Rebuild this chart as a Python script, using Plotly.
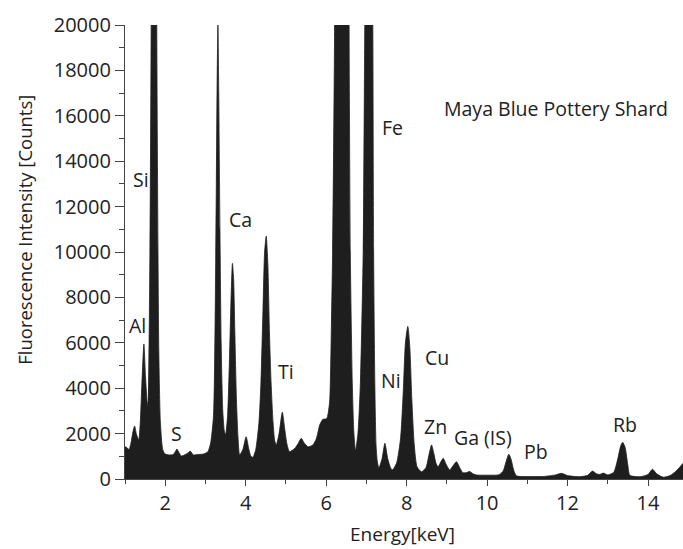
import plotly.graph_objects as go

energy_kev = [
    1.00, 1.05, 1.10, 1.15, 1.20, 1.24, 1.28, 1.34, 1.38, 1.42, 1.47, 1.51, 1.55, 1.57, 1.61, 1.65, 1.72, 1.79,
    1.84, 1.88, 1.94, 2.00, 2.10, 2.20, 2.25, 2.29, 2.33, 2.40, 2.50, 2.57, 2.62, 2.67, 2.70, 2.80, 2.95, 3.06,
    3.13, 3.20, 3.24, 3.27, 3.29, 3.31, 3.33, 3.36, 3.39, 3.43, 3.47, 3.50, 3.55, 3.60, 3.64, 3.67, 3.70, 3.73,
    3.77, 3.81, 3.85, 3.93, 4.01, 4.08, 4.13, 4.18, 4.25, 4.33, 4.38, 4.43, 4.47, 4.51, 4.55, 4.59, 4.63, 4.68,
    4.72, 4.76, 4.83, 4.91, 4.97, 5.03, 5.09, 5.22, 5.30, 5.38, 5.45, 5.55, 5.67, 5.76, 5.84, 5.92, 6.01, 6.05,
    6.09, 6.13, 6.16, 6.21, 6.30, 6.40, 6.50, 6.57, 6.60, 6.65, 6.69, 6.73, 6.79, 6.85, 6.92, 6.96, 7.06, 7.16,
    7.18, 7.21, 7.24, 7.27, 7.31, 7.39, 7.46, 7.53, 7.60, 7.65, 7.75, 7.85, 7.92, 7.97, 8.03, 8.08, 8.13, 8.19,
    8.26, 8.37, 8.48, 8.56, 8.62, 8.68, 8.73, 8.78, 8.85, 8.91, 8.98, 9.07, 9.16, 9.24, 9.32, 9.40, 9.48, 9.57,
    9.66, 9.74, 10.00, 10.30, 10.40, 10.47, 10.54, 10.60, 10.66, 10.73, 11.00, 11.40, 11.70, 11.85, 12.00, 12.30,
    12.50, 12.62, 12.72, 12.80, 12.89, 13.00, 13.15, 13.25, 13.32, 13.37, 13.43, 13.50, 13.55, 13.80, 14.00,
    14.11, 14.22, 14.38, 14.55, 14.70, 14.87,
]

counts = [
    1420, 1380, 1300, 1600, 2100, 2330, 2000, 1720, 2500, 4200, 5950, 4500, 3400, 3190, 8000, 20000, 80000, 20000,
    5700, 2500, 1280, 1100, 1060, 1080, 1200, 1320, 1200, 1013, 1080, 1150, 1233, 1120, 1057, 1080, 1100, 1200,
    1600, 2800, 7000, 13000, 17500, 20000, 17000, 11000, 6000, 3000, 2100, 1950, 2800, 5500, 8200, 9500, 8800, 6500,
    3500, 1800, 1060, 1300, 1860, 1300, 1000, 955, 1300, 2500, 4300, 7500, 10000, 10700, 9500, 6500, 4300, 2500,
    1700, 1500, 2000, 2940, 2200, 1500, 1200, 1350, 1550, 1790, 1600, 1420, 1500, 1800, 2380, 2630, 2650, 2900,
    3480, 6700, 10000, 20000, 70000, 120000, 70000, 20000, 10000, 4200, 2000, 1250, 2000, 4200, 10000, 20000, 40000, 20000,
    10000, 4200, 1500, 800, 485, 900, 1570, 900, 500, 400, 700, 1800, 4000, 6000, 6720, 5800, 3500, 1500,
    540, 320, 500, 1100, 1500, 1100, 700, 540, 750, 910, 650, 400, 600, 760, 500, 280, 280, 330,
    220, 176, 170, 190, 350, 750, 1090, 850, 400, 140, 110, 110, 180, 250, 150, 100,
    160, 350, 230, 200, 260, 180, 300, 900, 1450, 1615, 1400, 600, 160, 100, 200,
    430, 220, 80, 150, 350, 690,
]

label_text = ["Si", "Al", "S", "Ca", "Ti", "Fe", "Ni", "Cu", "Zn", "Ga (IS)", "Pb", "Rb", "Maya Blue Pottery Shard"]
label_x = [1.39, 1.31, 2.29, 3.87, 4.99, 7.65, 7.62, 8.75, 8.72, 9.89, 11.21, 13.42, 11.72]
label_y = [13215, 6760, 2026, 11410, 4735, 15480, 4320, 5370, 2330, 1850, 1230, 2380, 16340]

x_title = "Energy[keV]"
y_title = "Fluorescence Intensity [Counts]"

FONT = "Open Sans"
TXT = "#222222"
AX = "#444444"

fig = go.Figure()
fig.add_trace(go.Scatter(
    x=energy_kev, y=counts, mode="lines", fill="tozeroy",
    line=dict(color="#1e1e1e", width=0.8, shape="spline", smoothing=0.6), fillcolor="#1e1e1e",
    hoverinfo="skip", showlegend=False,
))

for t, x, y in zip(label_text, label_x, label_y):
    fig.add_annotation(x=x, y=y, text=t, showarrow=False, xanchor="center", yanchor="middle",
                       font=dict(family=FONT, size=19.5, color=TXT))

# axis titles placed as paper-referenced annotations
fig.add_annotation(xref="paper", yref="paper", x=-0.18, y=0.548, text=y_title, textangle=-90,
                   showarrow=False, xanchor="center", yanchor="middle",
                   font=dict(family=FONT, size=18.5, color=TXT))
fig.add_annotation(xref="paper", yref="paper", x=0.497, y=-0.121, text=x_title,
                   showarrow=False, xanchor="center", yanchor="middle",
                   font=dict(family=FONT, size=19, color=TXT))

fig.update_layout(
    width=683, height=549,
    margin=dict(l=125, r=0, t=25, b=70),
    paper_bgcolor="white", plot_bgcolor="white",
    font=dict(family=FONT, size=19, color=TXT),
    showlegend=False,
)
fig.update_xaxes(
    range=[1, 14.87], tick0=0, dtick=2, showgrid=False, zeroline=False,
    showline=True, linecolor=AX, linewidth=1.2,
    ticks="outside", ticklen=6, tickcolor=AX, tickwidth=1.2,
    minor=dict(dtick=1, tick0=0, ticks="outside", ticklen=4, tickcolor=AX, tickwidth=1.2, showgrid=False),
    tickfont=dict(family=FONT, size=20, color=TXT),
)
fig.update_yaxes(
    range=[0, 20000], tick0=0, dtick=2000, showgrid=False, zeroline=False,
    showline=True, linecolor=AX, linewidth=1.2,
    ticks="outside", ticklen=9, tickcolor=AX, tickwidth=1.2,
    minor=dict(dtick=1000, tick0=0, ticks="outside", ticklen=5, tickcolor=AX, tickwidth=1.2, showgrid=False),
    tickfont=dict(family=FONT, size=20, color=TXT),
    tickformat="d",
)

fig.write_html("out.html")
